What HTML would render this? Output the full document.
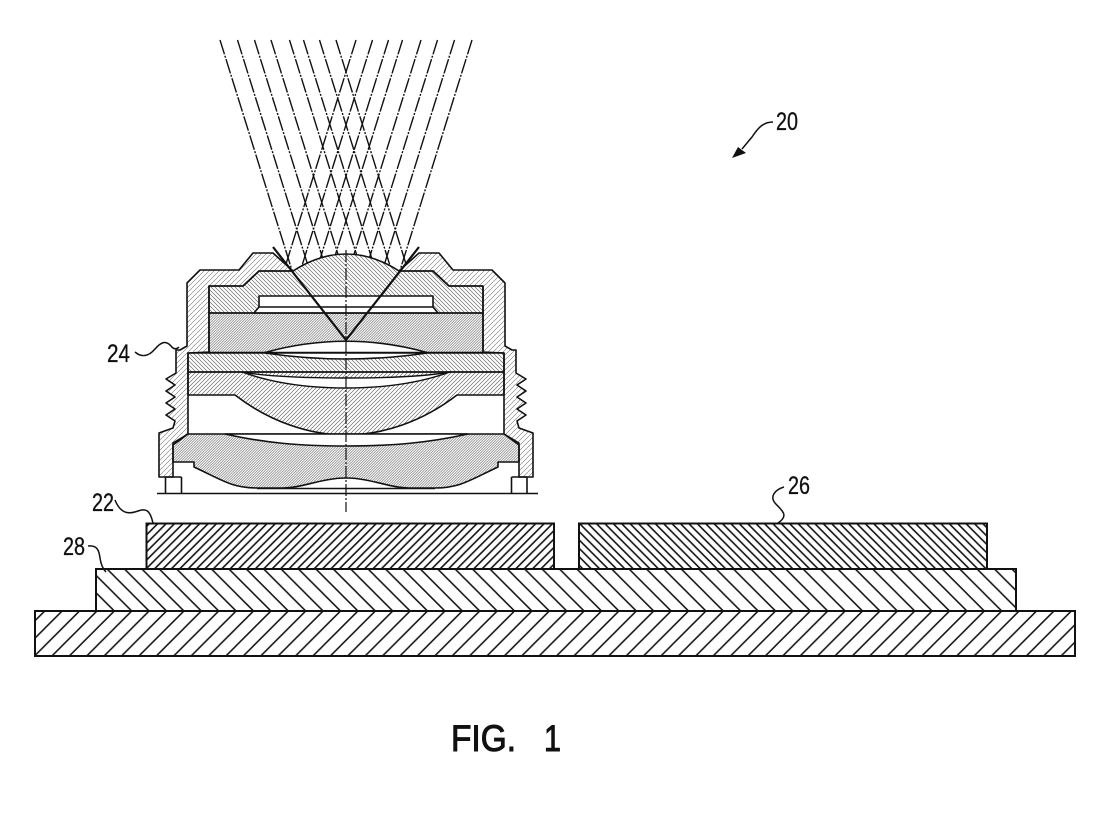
<!DOCTYPE html>
<html><head><meta charset="utf-8"><title>FIG. 1</title>
<style>html,body{margin:0;padding:0;background:#fff}svg{display:block}text{font-family:"Liberation Sans",sans-serif;fill:#111;stroke:#111}</style>
</head><body>
<svg xmlns="http://www.w3.org/2000/svg" width="1102" height="838" viewBox="0 0 1102 838">
<defs>
<pattern id="h22" width="8.4" height="8.4" patternUnits="userSpaceOnUse" patternTransform="translate(146 569)"><path d="M-2 10.4L10.4 -2M-2 2L2 -2M6.4 10.4L10.4 6.4" stroke="#111" stroke-width="1.6"/></pattern>
<pattern id="h26" width="8.4" height="8.4" patternUnits="userSpaceOnUse" patternTransform="translate(579 523)"><path d="M-2 -2L10.4 10.4M6.4 -2L10.4 2M-2 6.4L2 10.4" stroke="#111" stroke-width="1.6"/></pattern>
<pattern id="h28" width="17.4" height="17.4" patternUnits="userSpaceOnUse" patternTransform="translate(131.7 611)"><path d="M-2 -2L19.4 19.4M15.4 -2L19.4 2M-2 15.4L2 19.4" stroke="#111" stroke-width="1.5"/></pattern>
<pattern id="hb" width="17.4" height="17.4" patternUnits="userSpaceOnUse" patternTransform="translate(114.3 611)"><path d="M-2 19.4L19.4 -2M-2 2L2 -2M15.4 19.4L19.4 15.4" stroke="#111" stroke-width="1.5"/></pattern>
<pattern id="hHouse" width="5" height="5" patternUnits="userSpaceOnUse"><path d="M-1 6L6 -1M-1 1L1 -1M4 6L6 4" stroke="#777" stroke-width=".6"/></pattern>
<pattern id="hBack" width="4" height="4" patternUnits="userSpaceOnUse"><path d="M-1 -1L5 5M3 -1L5 1M-1 3L1 5" stroke="#666" stroke-width=".65"/></pattern>
<pattern id="hFwd" width="4" height="4" patternUnits="userSpaceOnUse"><path d="M-1 5L5 -1M-1 1L1 -1M3 5L5 3" stroke="#666" stroke-width=".65"/></pattern>
<pattern id="hDense" width="2.6" height="2.6" patternUnits="userSpaceOnUse"><path d="M-1 3.6L3.6 -1M-1 1L1 -1M1.6 3.6L3.6 1.6" stroke="#666" stroke-width=".6"/></pattern>
<clipPath id="rayClip"><path d="M0 0H692V247H419L399 271Q346 237 293 271L273 247H0Z"/></clipPath>
</defs>

<!-- bottom blocks -->
<g stroke="#111" stroke-width="2">
<rect x="146.500" y="523.500" width="407.500" height="45.500" fill="url(#h22)"/>
<rect x="579" y="523.500" width="408" height="45.500" fill="url(#h26)"/>
<rect x="96" y="569" width="920" height="42" fill="url(#h28)"/>
<rect x="35" y="611" width="1040" height="45" fill="url(#hb)"/>
</g>

<!-- rays -->
<g clip-path="url(#rayClip)" fill="none" stroke="#111" stroke-width="1.400" stroke-dasharray="15 1.500 2 1.500">
<path d="M220 40L292.500 272M237.500 40L310 272M254.500 40L327 272M271 40L343.500 272M289.500 40L362 272M303.500 40L376 272M319.500 40L392 272M336 40L408.500 272"/>
<path d="M472 40L399.500 272M454.500 40L382 272M437.500 40L365 272M421 40L348.500 272M402.500 40L330 272M388.500 40L316 272M372.500 40L300 272M356 40L283.500 272"/>
</g>

<!-- lens assembly -->
<g stroke="#111" stroke-width="1.600" stroke-linejoin="round">
<path fill="url(#hHouse)" d="M273 253L253 253L239 270L200 270L187 283L187 346L180 350L176 350L176 373L166 379L175 385L166 391L175 397L166 403L175 409L166 415L175 421L173 428L159 433L159 477L173 477L173 443L188 434L188 353L209 352L209 286L243 286L259 271L293 271Z"/>
<path fill="url(#hHouse)" d="M419 253L439 253L453 270L492 270L505 283L505 346L512 350L516 350L516 373L526 379L517 385L526 391L517 397L526 403L517 409L526 415L517 421L519 428L533 433L533 477L519 477L519 443L504 434L504 353L483 352L483 286L449 286L433 271L399 271Z"/>
<path fill="url(#hBack)" d="M209 286L243 286L259 271L293 271Q346 237 399 271L433 271L449 286L483 286L483 313L209 313Z"/>
<path fill="#fff" d="M259 296L433 296L433 307L438 313L254 313L259 307Z"/>
<path fill="none" d="M259 307L433 307"/>
<rect x="209" y="313" width="274" height="39.500" fill="url(#hDense)"/>
<path fill="#fff" d="M265 352.500Q346 330 427 352.500Z"/>
<rect x="188" y="353" width="316" height="19" fill="url(#hBack)"/>
<path fill="#fff" d="M265 353Q346 365 427 353Z"/>
<path fill="url(#hFwd)" d="M188 372L504 372L504 395L457 395C422 422 382 435 346 435C310 435 270 422 235 395L188 395Z"/>
<path fill="#fff" stroke-width="1.400" d="M242 372C270 377 310 378 346 378C382 378 422 377 450 372C417 384 382 388 346 388C310 388 275 384 242 372Z"/>
<path fill="url(#hDense)" d="M173 445L188 434L504 434L519 445L519 462L498 462L498 467C470 480 460 488 435 488L409 488C390 488 370 478 346 478C322 478 302 488 283 488L257 488C232 488 222 480 194 467L194 462L173 462Z"/>
<path fill="#fff" d="M225 434C265 443 300 446 346 446C392 446 427 443 468 434Z"/>
<path fill="none" d="M257 488.500L435 488.500"/>
<path fill="none" d="M157 493.500L538 493.500"/>
<path fill="none" d="M165.500 477V493M181.500 477V493M165.500 477H181.500M511.500 477V493M527 477V493M511.500 477H527"/>
</g>

<!-- V lines -->
<path d="M273 247L346 340L419 247" fill="none" stroke="#111" stroke-width="2.200"/>
<!-- centre line -->
<path d="M346 250V512" fill="none" stroke="#111" stroke-width="1.200" stroke-dasharray="12 2 2 2"/>

<!-- leaders -->
<g fill="none" stroke="#111" stroke-width="1.500">
<path d="M115 500C121 515 130 514 138 511C146 508 150 510 153 523"/>
<path d="M88 546C97 545 99 550 100 558C101 565 103 569 106 572"/>
<path d="M784 487C774 490 770 497 775 503C781 510 790 515 778 523"/>
<path d="M135 352C142 358 149 356 155 349C161 342 166 340 171 346C174 350 177 349 179 347"/>
<path d="M773 122C763 122 758 128 752 137L742 149"/>
</g>
<path d="M732 158L738 147L746 153Z" fill="#111"/>

<!-- labels -->
<g font-size="25" stroke-width=".3">
<text x="776" y="130" textLength="22" lengthAdjust="spacingAndGlyphs">20</text>
<text x="107" y="362" textLength="23" lengthAdjust="spacingAndGlyphs">24</text>
<text x="92" y="511" textLength="22" lengthAdjust="spacingAndGlyphs">22</text>
<text x="63" y="555" textLength="22" lengthAdjust="spacingAndGlyphs">28</text>
<text x="788" y="494" textLength="22" lengthAdjust="spacingAndGlyphs">26</text>
</g>
<g font-size="37" stroke-width="1">
<text x="451" y="751" textLength="65" lengthAdjust="spacingAndGlyphs">FIG.</text>
<text x="544" y="751" textLength="17" lengthAdjust="spacingAndGlyphs">1</text>
</g>
</svg>
</body></html>
